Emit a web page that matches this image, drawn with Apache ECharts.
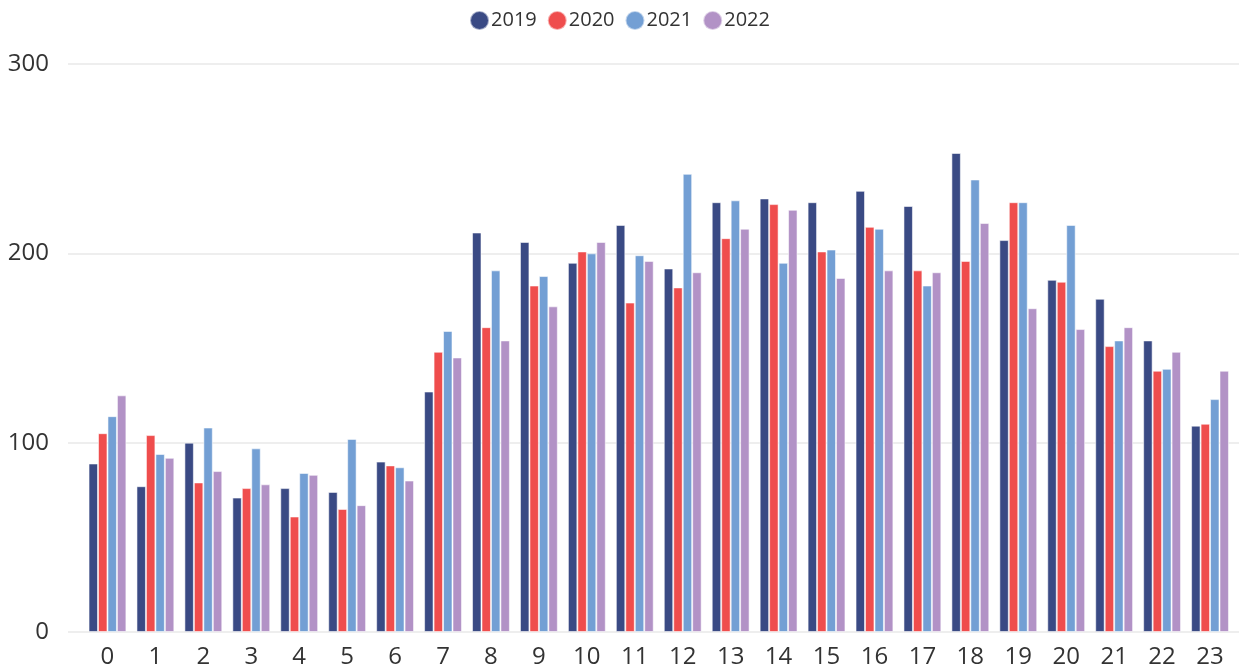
<!DOCTYPE html>
<html>
<head>
<meta charset="utf-8">
<script src="https://cdn.jsdelivr.net/npm/echarts@6/dist/echarts.min.js"></script>
<style>
  html, body { margin: 0; padding: 0; background: #fff; }
  #chart { width: 1239px; height: 672px; }
</style>
</head>
<body>
<div id="chart"></div>
<script>
// hours of the day on the x axis
var hours = ['0','1','2','3','4','5','6','7','8','9','10','11','12','13','14','15','16','17','18','19','20','21','22','23'];
var years = ['2019', '2020', '2021', '2022'];

// values per hour, one array per year
var y2019 = [89, 77, 100, 71, 76, 74, 90, 127, 211, 206, 195, 215, 192, 227, 229, 227, 233, 225, 253, 207, 186, 176, 154, 109];
var y2020 = [105, 104, 79, 76, 61, 65, 88, 148, 161, 183, 201, 174, 182, 208, 226, 201, 214, 191, 196, 227, 185, 151, 138, 110];
var y2021 = [114, 94, 108, 97, 84, 102, 87, 159, 191, 188, 200, 199, 242, 228, 195, 202, 213, 183, 239, 227, 215, 154, 139, 123];
var y2022 = [125, 92, 85, 78, 83, 67, 80, 145, 154, 172, 206, 196, 190, 213, 223, 187, 191, 190, 216, 171, 160, 161, 148, 138];

var yTicks = { min: 0, max: 300, interval: 100 };
var colors = ['#3a4a84', '#ef4d4d', '#739fd4', '#b292c6'];

var chart = echarts.init(document.getElementById('chart'));

function barSeries(name, data) {
  return {
    name: name,
    type: 'bar',
    xAxisIndex: 1,
    yAxisIndex: 1,
    barGap: '0%',
    barCategoryGap: '21%',
    itemStyle: {
      borderColor: 'rgba(255,255,255,0.55)',
      borderWidth: 1
    },
    data: data
  };
}

var option = {
  animation: false,
  color: colors,
  textStyle: { fontFamily: "'Open Sans', sans-serif" },
  legend: {
    data: years,
    top: 5,
    left: 'center',
    icon: 'circle',
    itemWidth: 19,
    itemHeight: 19,
    itemGap: 10,
    textStyle: { fontSize: 20, color: '#333', padding: [0, 0, 0, -3] }
  },
  // grid 0 carries the gridlines and y labels, grid 1 the bars
  grid: [
    { left: 68, right: 0, top: 64, bottom: 40 },
    { left: 83.5, right: 5, top: 64, bottom: 40 }
  ],
  xAxis: [
    { gridIndex: 0, type: 'value', min: 0, max: 1, show: false },
    {
      gridIndex: 1,
      type: 'category',
      data: hours,
      axisLine: { show: false },
      axisTick: { show: false },
      axisLabel: { fontSize: 24, color: '#333', margin: 13 }
    }
  ],
  yAxis: [
    {
      gridIndex: 0,
      type: 'value',
      min: yTicks.min,
      max: yTicks.max,
      interval: yTicks.interval,
      axisLine: { show: false },
      axisTick: { show: false },
      axisLabel: { fontSize: 24, color: '#333', margin: 19 },
      splitLine: { lineStyle: { color: '#eeeeee', width: 2 } }
    },
    {
      gridIndex: 1,
      type: 'value',
      min: yTicks.min,
      max: yTicks.max,
      interval: yTicks.interval,
      show: false
    }
  ],
  series: [
    barSeries('2019', y2019),
    barSeries('2020', y2020),
    barSeries('2021', y2021),
    barSeries('2022', y2022)
  ]
};

chart.setOption(option);
</script>
</body>
</html>
